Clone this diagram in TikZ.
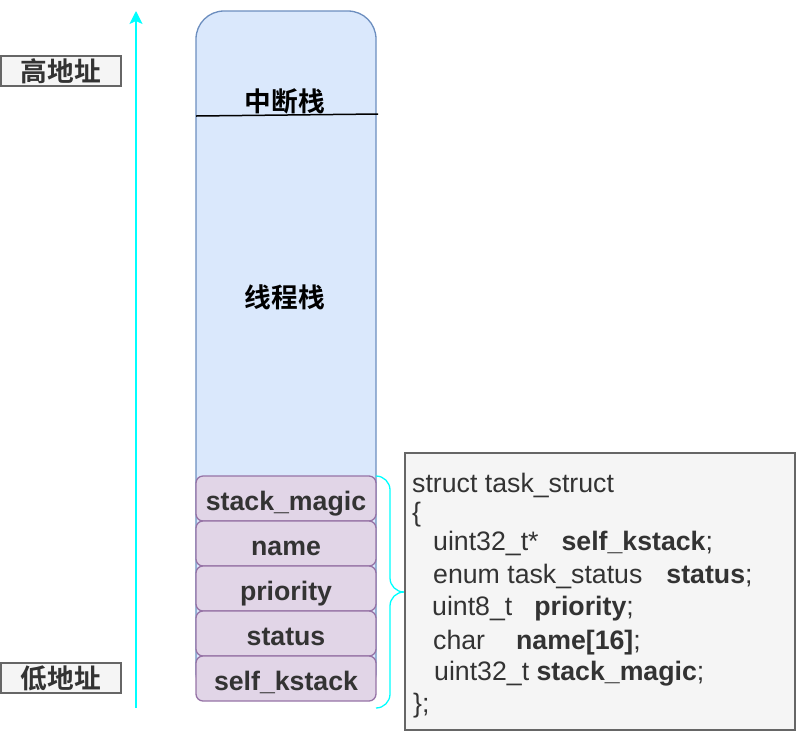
\documentclass[tikz,border=0pt]{standalone}
\usepackage{fontspec}
\setmainfont{Liberation Sans}
\newfontfamily\cjk{Noto Sans CJK SC Bold}
\usetikzlibrary{arrows.meta}
\definecolor{bluefill}{HTML}{DAE8FC}
\definecolor{bluestroke}{HTML}{6C8EBF}
\definecolor{purfill}{HTML}{E1D5E7}
\definecolor{purstroke}{HTML}{9673A6}
\definecolor{grayfill}{HTML}{F5F5F5}
\definecolor{graystroke}{HTML}{666666}
\definecolor{txt}{HTML}{333333}
\definecolor{cyanline}{HTML}{00FFFF}
\begin{document}
\begin{tikzpicture}[x=1pt,y=-1pt,
  addr/.style={draw=graystroke, fill=grayfill, line width=1.3pt, minimum width=120pt, minimum height=30pt, inner sep=0pt, text=txt, font=\cjk\fontsize{26.7}{30}\selectfont, text height=23.5pt, text depth=3.2pt},
  field/.style={draw=purstroke, fill=purfill, line width=1.3pt, rounded corners=7pt, minimum width=180pt, minimum height=45pt, inner sep=0pt, text=txt, font=\bfseries\fontsize{26.7}{30}\selectfont, text height=23pt, text depth=0pt},
  cjklabel/.style={anchor=base, inner sep=0pt, text=black, font=\cjk\fontsize{26.7}{30}\selectfont},
  codeline/.style={anchor=base west, inner sep=0pt, text=txt, font=\fontsize{26.7}{31.4}\selectfont},
  bracestyle/.style={draw=cyanline, line width=1.3pt, rounded corners=14pt},
  arrowstyle/.style={draw=cyanline, line width=1.3pt, -{Stealth[length=13pt,width=13pt,inset=3pt]}}
]
\useasboundingbox (0,0) rectangle (797,732);

% address labels
\node[addr] (high) at (61,71) {高地址};
\node[addr] (low) at (61,678) {低地址};

% address arrow
\coordinate (abot) at (136,708);
\coordinate (atop) at (136,11);
\draw[arrowstyle] (abot) -- (atop);

% big stack
\node[draw=bluestroke, fill=bluefill, line width=1.3pt, rounded corners=28pt, minimum width=180pt, minimum height=689pt, inner sep=0pt] (stack) at (286,355.5) {};
\coordinate (sepL) at (196,116);
\coordinate (sepR) at (378,114);
\draw[line width=1.5pt, black] (sepL) -- (sepR);
\node[cjklabel] (irq) at (285,111) {中断栈};
\node[cjklabel] (thr) at (285,307) {线程栈};

% fields
\node[field] (f1) at (286,498.5) {stack\_magic};
\node[field] (f2) at (286,543.5) {name};
\node[field] (f3) at (286,588.5) {priority};
\node[field] (f4) at (286,633.5) {status};
\node[field] (f5) at (286,678.5) {self\_kstack};

% brace
\coordinate (btop) at (376,476);
\coordinate (bbot) at (376,708);
\coordinate (btip) at (404,592);
\draw[bracestyle] (btop) -| (390,592) -- (btip);
\draw[bracestyle] (bbot) -| (390,592) -- (btip);

% code box
\node[draw=graystroke, fill=grayfill, line width=1.3pt, minimum width=390pt, minimum height=277pt, inner sep=0pt] (codebox) at (600,591.5) {};
\node[codeline] (c1) at (412,492) {struct task\_struct};
\node[codeline] (c2) at (412,521) {\{};
\node[codeline] (c3) at (433,550) {uint32\_t*\hspace{23pt}\textbf{self\_kstack};};
\node[codeline] (c4) at (433,583) {enum task\_status\hspace{24pt}\textbf{status};};
\node[codeline] (c5) at (432,615) {uint8\_t\hspace{22pt}\textbf{priority};};
\node[codeline] (c6) at (433,649) {char\hspace{31pt}\textbf{name[16]};};
\node[codeline] (c7) at (434,680) {uint32\_t \textbf{stack\_magic};};
\node[codeline] (c8) at (413,712) {\};};
\end{tikzpicture}
\end{document}
